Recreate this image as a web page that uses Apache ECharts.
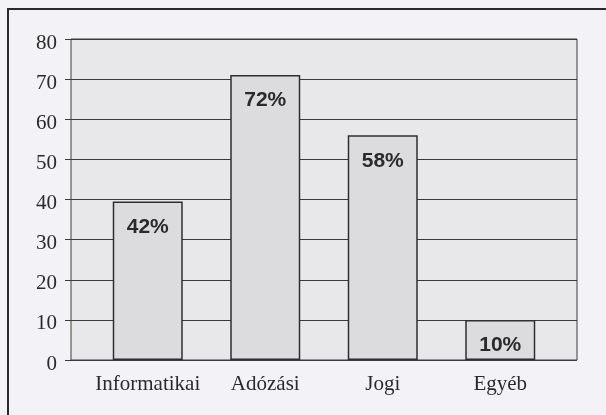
<!DOCTYPE html>
<html>
<head>
<meta charset="utf-8">
<script src="https://cdn.jsdelivr.net/npm/echarts@6/dist/echarts.min.js"></script>
<style>
html,body{margin:0;padding:0;background:#f3f3f7;}
#c{width:606px;height:415px;}
</style>
</head>
<body>
<div id="c"></div>
<script>
// Data
const categories = ['Informatikai', 'Adózási', 'Jogi', 'Egyéb'];
const values = [39.5, 71, 56, 10];
const barLabels = ['42%', '72%', '58%', '10%'];
const yMin = 0, yMax = 80, yStep = 10;

const chart = echarts.init(document.getElementById('c'), null, {renderer: 'canvas'});
const serif = '"Liberation Serif", "Times New Roman", serif';
const sans = '"Liberation Sans", Arial, sans-serif';

chart.setOption({
  backgroundColor: '#f3f3f7',
  animation: false,
  graphic: [{
    type: 'rect',
    shape: {x: 8, y: 9, width: 620, height: 430},
    style: {fill: 'none', stroke: '#2a2a2a', lineWidth: 2},
    z: 0
  }],
  grid: [
    {left: 71, right: 29, top: 39, bottom: 55, show: true,
     backgroundColor: '#e8e8eb', borderColor: '#3a3a3a', borderWidth: 1},
    {left: 89, right: 47, top: 39, bottom: 55}
  ],
  xAxis: [
    {gridIndex: 0, type: 'category', data: categories, show: false},
    {gridIndex: 1, type: 'category', data: categories,
     axisLine: {show: false}, axisTick: {show: false},
     axisLabel: {interval: 0, fontFamily: serif, fontSize: 21, color: '#2a2a2a', margin: 14}}
  ],
  yAxis: [
    {gridIndex: 0, type: 'value', min: yMin, max: yMax, interval: yStep,
     axisLine: {show: false},
     axisTick: {show: true, inside: false, length: 6, lineStyle: {color: '#3a3a3a'}},
     splitLine: {show: true, lineStyle: {color: '#3a3a3a', width: 1}},
     axisLabel: {fontFamily: serif, fontSize: 21, color: '#2a2a2a', margin: 14,
                 verticalAlign: 'top', lineHeight: 8}},
    {gridIndex: 1, type: 'value', min: yMin, max: yMax, interval: yStep, show: false,
     splitLine: {show: false}}
  ],
  series: [{
    type: 'bar',
    xAxisIndex: 1, yAxisIndex: 1,
    data: values,
    barWidth: 70,
    itemStyle: {color: '#dcdcdf', borderColor: '#2e2e2e', borderWidth: 1.5},
    label: {
      show: true, position: 'insideTop', distance: 15,
      fontFamily: sans, fontWeight: 'bold', fontSize: 21, color: '#2a2a2a',
      formatter: p => barLabels[p.dataIndex]
    },
    z: 3
  }]
});
</script>
</body>
</html>
